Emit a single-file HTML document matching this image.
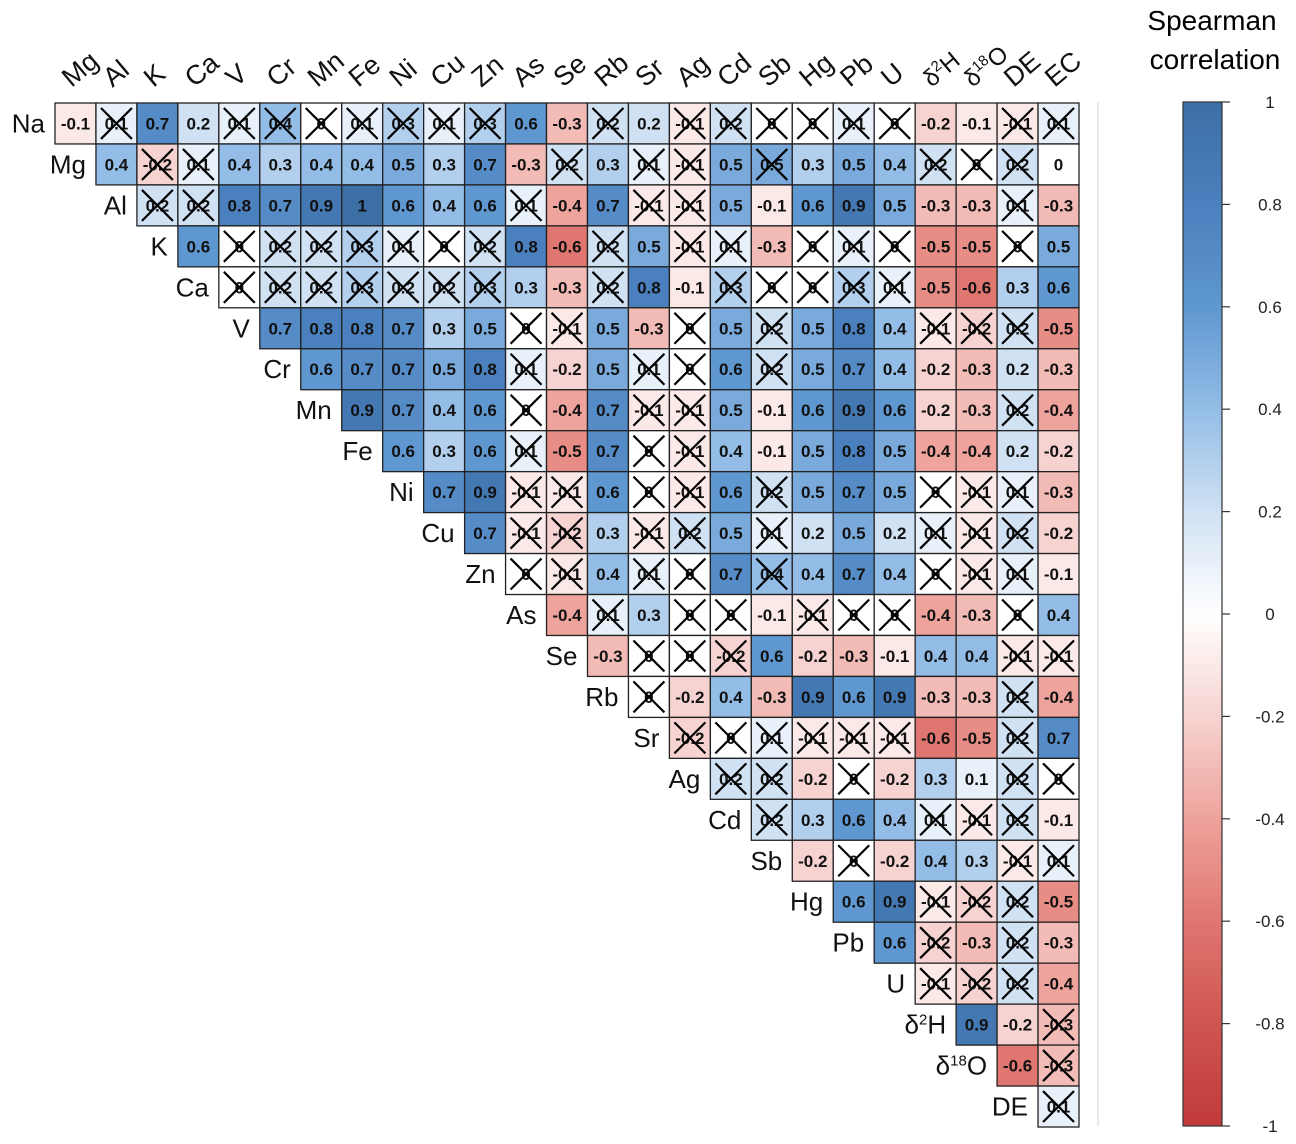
<!DOCTYPE html>
<html><head><meta charset="utf-8"><style>
body{margin:0;background:#fff;}
svg{display:block;font-family:"Liberation Sans",Arial,sans-serif;}
</style></head><body>
<svg id="chart" width="1296" height="1144" viewBox="0 0 1296 1144" xmlns="http://www.w3.org/2000/svg">
<defs>
<linearGradient id="cbar" x1="0" y1="0" x2="0" y2="1">
<stop offset="0" stop-color="#3d6fa7"/>
<stop offset="0.1" stop-color="#4a80bd"/>
<stop offset="0.2" stop-color="#5f97d0"/>
<stop offset="0.3" stop-color="#93bde6"/>
<stop offset="0.4" stop-color="#d0e1f3"/>
<stop offset="0.5" stop-color="#ffffff"/>
<stop offset="0.6" stop-color="#f6d3d0"/>
<stop offset="0.7" stop-color="#eea39c"/>
<stop offset="0.8" stop-color="#e07670"/>
<stop offset="0.9" stop-color="#cf5551"/>
<stop offset="1" stop-color="#c13a3b"/>
</linearGradient>
</defs>
<g id="cells"></g>
<g id="rowlabels"></g>
<g id="collabels"></g>
<line x1="1098" y1="102" x2="1098" y2="1126" stroke="#e4e4e4" stroke-width="1.5"/>
<g id="legend">
<text x="1212" y="30" font-size="28" text-anchor="middle">Spearman</text>
<text x="1215" y="69" font-size="28" text-anchor="middle">correlation</text>
<rect x="1183" y="102" width="39" height="1024" fill="url(#cbar)" stroke="#333" stroke-width="1.2"/>
</g>
</svg>
<script>
const labels = ["Na","Mg","Al","K","Ca","V","Cr","Mn","Fe","Ni","Cu","Zn","As","Se","Rb","Sr","Ag","Cd","Sb","Hg","Pb","U","δ2H","δ18O","DE","EC"];
// rows: values for columns i+1..end; suffix 'x' = not significant (crossed)
const rowValues = [
["-0.1","0.1x","0.7","0.2","0.1x","0.4x","0x","0.1x","0.3x","0.1x","0.3x","0.6","-0.3","0.2x","0.2","-0.1x","0.2x","0x","0x","0.1x","0x","-0.2","-0.1","-0.1x","0.1x"],
["0.4","-0.2x","0.1x","0.4","0.3","0.4","0.4","0.5","0.3","0.7","-0.3","0.2x","0.3","0.1x","-0.1x","0.5","0.5x","0.3","0.5","0.4","0.2x","0x","0.2x","0"],
["0.2x","0.2x","0.8","0.7","0.9","1","0.6","0.4","0.6","0.1x","-0.4","0.7","-0.1x","-0.1x","0.5","-0.1","0.6","0.9","0.5","-0.3","-0.3","0.1x","-0.3"],
["0.6","0x","0.2x","0.2x","0.3x","0.1x","0x","0.2x","0.8","-0.6","0.2x","0.5","-0.1x","0.1x","-0.3","0x","0.1x","0x","-0.5","-0.5","0x","0.5"],
["0x","0.2x","0.2x","0.3x","0.2x","0.2x","0.3x","0.3","-0.3","0.2x","0.8","-0.1","0.3x","0x","0x","0.3x","0.1x","-0.5","-0.6","0.3","0.6"],
["0.7","0.8","0.8","0.7","0.3","0.5","0x","-0.1x","0.5","-0.3","0x","0.5","0.2x","0.5","0.8","0.4","-0.1x","-0.2x","0.2x","-0.5"],
["0.6","0.7","0.7","0.5","0.8","0.1x","-0.2","0.5","0.1x","0x","0.6","0.2x","0.5","0.7","0.4","-0.2","-0.3","0.2","-0.3"],
["0.9","0.7","0.4","0.6","0x","-0.4","0.7","-0.1x","-0.1x","0.5","-0.1","0.6","0.9","0.6","-0.2","-0.3","0.2x","-0.4"],
["0.6","0.3","0.6","0.1x","-0.5","0.7","0x","-0.1x","0.4","-0.1","0.5","0.8","0.5","-0.4","-0.4","0.2","-0.2"],
["0.7","0.9","-0.1x","-0.1x","0.6","0x","-0.1x","0.6","0.2x","0.5","0.7","0.5","0x","-0.1x","0.1x","-0.3"],
["0.7","-0.1x","-0.2x","0.3","-0.1x","0.2x","0.5","0.1x","0.2","0.5","0.2","0.1x","-0.1x","0.2x","-0.2"],
["0x","-0.1x","0.4","0.1x","0x","0.7","0.4x","0.4","0.7","0.4","0x","-0.1x","0.1x","-0.1"],
["-0.4","0.1x","0.3","0x","0x","-0.1","-0.1x","0x","0x","-0.4","-0.3","0x","0.4"],
["-0.3","0x","0x","-0.2x","0.6","-0.2","-0.3","-0.1","0.4","0.4","-0.1x","-0.1x"],
["0x","-0.2","0.4","-0.3","0.9","0.6","0.9","-0.3","-0.3","0.2x","-0.4"],
["-0.2x","0x","0.1x","-0.1x","-0.1x","-0.1x","-0.6","-0.5","0.2x","0.7"],
["0.2x","0.2x","-0.2","0x","-0.2","0.3","0.1","0.2x","0x"],
["0.2x","0.3","0.6","0.4","0.1x","-0.1x","0.2x","-0.1"],
["-0.2","0x","-0.2","0.4","0.3","-0.1x","0.1x"],
["0.6","0.9","-0.1x","-0.2x","0.2x","-0.5"],
["0.6","-0.2x","-0.3","0.2x","-0.3"],
["-0.1x","-0.2x","0.2x","-0.4"],
["0.9","-0.2","-0.3x"],
["-0.6","-0.3x"],
["0.1x"]
];
const legendTicks = [1,0.8,0.6,0.4,0.2,0,-0.2,-0.4,-0.6,-0.8,-1];

const NS="http://www.w3.org/2000/svg";
const X0=55, Y0=103, CW=40.96, CH=40.96;
const colX = c => X0 + (c-1)*CW;
const rowY = r => Y0 + r*CH;
const stops=[[-1,[193,58,59]],[-0.8,[207,85,81]],[-0.6,[224,118,112]],[-0.4,[238,163,156]],[-0.2,[246,211,208]],[0,[255,255,255]],[0.2,[208,225,243]],[0.4,[147,189,230]],[0.6,[95,151,208]],[0.8,[74,128,189]],[1,[61,111,167]]];
function color(v){
  for(let i=0;i<stops.length-1;i++){
    const [a,ca]=stops[i],[b,cb]=stops[i+1];
    if(v>=a&&v<=b){const t=(v-a)/(b-a);return `rgb(${ca.map((c,k)=>Math.round(c+(cb[k]-c)*t)).join(',')})`;}
  }
  return '#fff';
}
function mk(tag,attrs,parent){const e=document.createElementNS(NS,tag);for(const k in attrs)e.setAttribute(k,attrs[k]);parent.appendChild(e);return e;}
const cells=document.getElementById('cells');
rowValues.forEach((row,r)=>{
  row.forEach((s,j)=>{
    const c=r+1+j;
    const crossed=s.endsWith('x');
    const v=parseFloat(s);
    const x=colX(c), y=rowY(r);
    const g=mk('g',{},cells);
    
    
    mk('rect',{x:x,y:y,width:CW,height:CH,fill:color(v),stroke:'#222','stroke-width':1.3},g);
    const t=mk('text',{x:x+CW/2,y:y+CH/2+6,'font-size':17,'font-weight':'bold','text-anchor':'middle',fill:'#111'},g);
    t.textContent=crossed?s.slice(0,-1):s;
    if(crossed){
      mk('line',{x1:x+5,y1:y+5,x2:x+CW-5,y2:y+CH-5,stroke:'#000','stroke-width':2.2},g);
      mk('line',{x1:x+CW-5,y1:y+5,x2:x+5,y2:y+CH-5,stroke:'#000','stroke-width':2.2},g);
    }
  });
});
function setLabel(t,name){
  if(name==='δ2H'){t.innerHTML='δ<tspan font-size="15" dy="-9">2</tspan><tspan dy="9">H</tspan>';}
  else if(name==='δ18O'){t.innerHTML='δ<tspan font-size="15" dy="-9">18</tspan><tspan dy="9">O</tspan>';}
  else t.textContent=name;
}
const rl=document.getElementById('rowlabels');
for(let r=0;r<25;r++){
  const t=mk('text',{x:colX(r+1)-10,y:rowY(r)+CH/2+9,'font-size':26,'text-anchor':'end',fill:'#111'},rl);
  
  
  setLabel(t,labels[r]);
}
const cl=document.getElementById('collabels');
for(let c=1;c<26;c++){
  const small=(c===22||c===23);
  const x=colX(c)+CW/2-4, y=88;
  const t=mk('text',{x:x,y:y,'font-size':small?24:27,transform:`rotate(-40 ${x} ${y})`,fill:'#111'},cl);
  
  
  setLabel(t,labels[c]);
}
const lg=document.getElementById('legend');
const ly=v=>102+(1-v)/2*1024;
legendTicks.forEach(v=>{
  const y=ly(v);
  const l=mk('line',{x1:1222,y1:y,x2:1230,y2:y,stroke:'#333','stroke-width':1.2},lg);
  
  
  const t=mk('text',{x:1270,y:y+6,'font-size':17,'text-anchor':'middle',fill:'#222'},lg);
  
  
  t.textContent=String(v);
});
</script>
</body></html>
